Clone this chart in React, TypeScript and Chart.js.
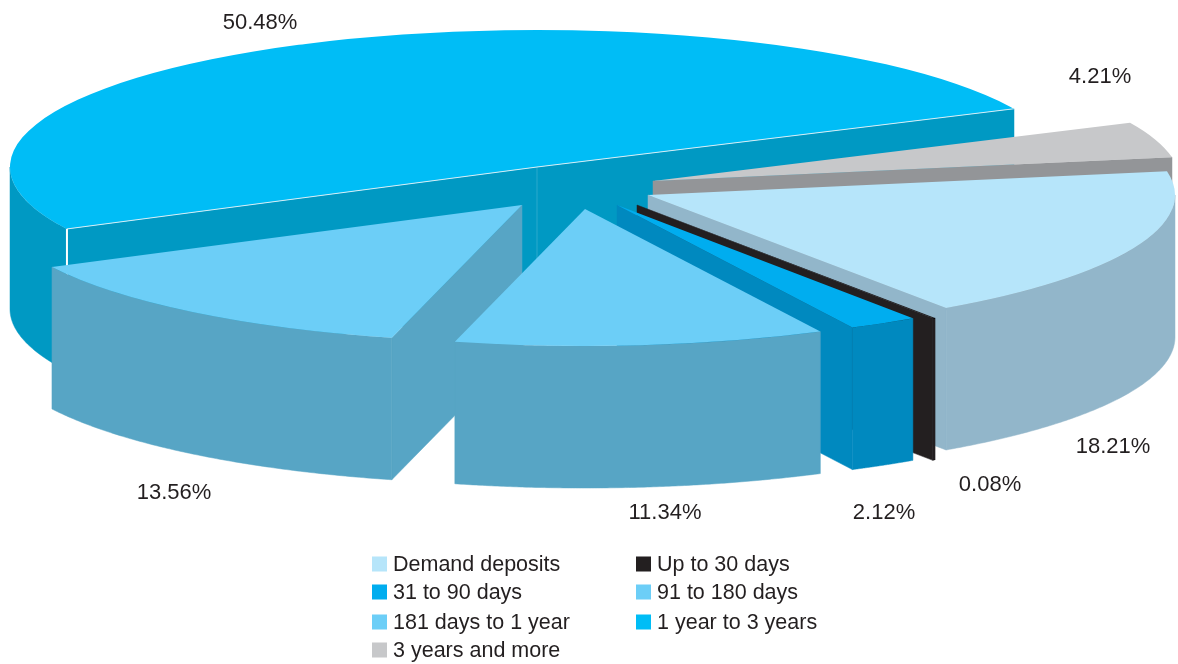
import React, { useEffect, useRef } from "react";
import { Chart, registerables } from "chart.js";

Chart.register(...registerables);

// ---- data ----
const categories = [
  "Demand deposits",
  "Up to 30 days",
  "31 to 90 days",
  "91 to 180 days",
  "181 days to 1 year",
  "1 year to 3 years",
  "3 years and more",
];
const shares = [18.21, 0.08, 2.12, 11.34, 13.56, 50.48, 4.21];

// ---- styles ----
const topColors = ["#B6E5FA", "#231F20", "#00ADEF", "#6CCEF7", "#6CCEF7", "#00BDF6", "#C7C8CA"];
const wallColors = ["#92B6CA", "#231F20", "#0089BF", "#57A5C5", "#57A5C5", "#0099C3", "#939598"];

// ---- layout of the exploded, tilted pie ----
const RADIUS = 527;
const TILT = 137 / 527;
const DEPTH = 142;
const ROTATION = 80;
const apexes: [number, number][] = [
  [648, 195],
  [637, 205],
  [617, 205],
  [585, 209],
  [522, 205],
  [537, 167],
  [653, 181],
];
const paintOrder = [5, 6, 0, 1, 2, 4, 3];
const labelPositions: [number, number][] = [
  [1113, 447],
  [990, 485],
  [884, 513],
  [665, 513],
  [174, 493],
  [260, 23],
  [1100, 77],
];
const legendOrder = [0, 1, 2, 3, 4, 5, 6];
const legendColumns = [372, 636];
const legendRows = [564, 592, 622, 650];
const BIG_SLICE = 5;

const FONT = '22px "Liberation Sans", Arial, sans-serif';
const LEGEND_FONT = '21.5px "Liberation Sans", Arial, sans-serif';
const TEXT_COLOR = "#231F20";

const pie3d = {
  id: "pie3d",
  beforeDatasetDraw(chart: any) {
    const ctx: CanvasRenderingContext2D = chart.ctx;
    const arcs = chart.getDatasetMeta(0).data;

    paintOrder.forEach((i) => {
      const el = arcs[i];
      const [ax, ay] = apexes[i];
      const s: number = el.startAngle;
      const e: number = el.endAngle;
      const r: number = el.outerRadius;
      const px = (t: number) => ax + r * Math.cos(t);
      const py = (t: number) => ay + r * TILT * Math.sin(t);

      ctx.save();
      ctx.fillStyle = wallColors[i];
      ctx.strokeStyle = wallColors[i];
      ctx.lineWidth = 0.5;

      const face = (t: number) => {
        ctx.beginPath();
        ctx.moveTo(ax, ay);
        ctx.lineTo(px(t), py(t));
        ctx.lineTo(px(t), py(t) + DEPTH);
        ctx.lineTo(ax, ay + DEPTH);
        ctx.closePath();
        ctx.fill();
        ctx.stroke();
      };
      if (Math.cos(s) < 0) face(s);
      if (Math.cos(e) > 0) face(e);

      const a = Math.max(s, 0);
      const b = Math.min(e, Math.PI);
      if (b > a) {
        ctx.beginPath();
        for (let k = 0; k <= 120; k++) {
          const t = a + ((b - a) * k) / 120;
          if (k === 0) ctx.moveTo(px(t), py(t));
          else ctx.lineTo(px(t), py(t));
        }
        for (let k = 120; k >= 0; k--) {
          const t = a + ((b - a) * k) / 120;
          ctx.lineTo(px(t), py(t) + DEPTH);
        }
        ctx.closePath();
        ctx.fill();
        ctx.stroke();
      }
      ctx.restore();

      ctx.save();
      ctx.translate(ax, ay);
      ctx.scale(1, TILT);
      ctx.translate(-el.x, -el.y);
      el.draw(ctx, chart.chartArea);
      ctx.restore();

      if (i === BIG_SLICE) {
        ctx.save();
        ctx.strokeStyle = "#2BA9CC";
        ctx.lineWidth = 1;
        ctx.beginPath();
        ctx.moveTo(ax, ay);
        ctx.lineTo(ax, ay + DEPTH);
        ctx.stroke();
        ctx.strokeStyle = "#D6EEF6";
        ctx.beginPath();
        ctx.moveTo(px(s), py(s));
        ctx.lineTo(ax, ay);
        ctx.lineTo(px(e), py(e));
        ctx.stroke();
        ctx.strokeStyle = "#FFFFFF";
        ctx.lineWidth = 2;
        ctx.beginPath();
        ctx.moveTo(px(s), py(s));
        ctx.lineTo(px(s), py(s) + DEPTH);
        ctx.stroke();
        ctx.restore();
      }
    });
    return false;
  },
  afterDraw(chart: any) {
    const ctx: CanvasRenderingContext2D = chart.ctx;
    const values: number[] = chart.data.datasets[0].data;
    const colors: string[] = chart.data.datasets[0].backgroundColor;
    const names: string[] = chart.data.labels;

    ctx.save();
    ctx.fillStyle = TEXT_COLOR;
    ctx.font = FONT;
    ctx.textAlign = "center";
    ctx.textBaseline = "middle";
    values.forEach((v, i) => {
      ctx.fillText(v.toFixed(2) + "%", labelPositions[i][0], labelPositions[i][1]);
    });

    ctx.font = LEGEND_FONT;
    ctx.textAlign = "left";
    legendOrder.forEach((i, n) => {
      const x = legendColumns[n % 2];
      const y = legendRows[Math.floor(n / 2)];
      ctx.fillStyle = colors[i];
      ctx.fillRect(x, y - 7.5, 15, 15);
      ctx.fillStyle = TEXT_COLOR;
      ctx.fillText(names[i], x + 21, y + 1);
    });
    ctx.restore();
  },
};

export default function App() {
  const ref = useRef<HTMLCanvasElement | null>(null);

  useEffect(() => {
    document.body.style.margin = "0";
    const chart = new Chart(ref.current as HTMLCanvasElement, {
      type: "pie",
      data: {
        labels: categories,
        datasets: [
          {
            data: shares,
            backgroundColor: topColors,
            borderWidth: 0,
            radius: RADIUS,
          } as any,
        ],
      },
      options: {
        responsive: false,
        animation: false,
        rotation: ROTATION,
        events: [],
        plugins: {
          legend: { display: false },
          tooltip: { enabled: false },
        },
      },
      plugins: [pie3d],
    } as any);
    return () => chart.destroy();
  }, []);

  return (
    <div style={{ width: 1178, height: 664, overflow: "hidden", background: "#fff" }}>
      <canvas ref={ref} width={1178} height={664} style={{ display: "block" }} />
    </div>
  );
}
